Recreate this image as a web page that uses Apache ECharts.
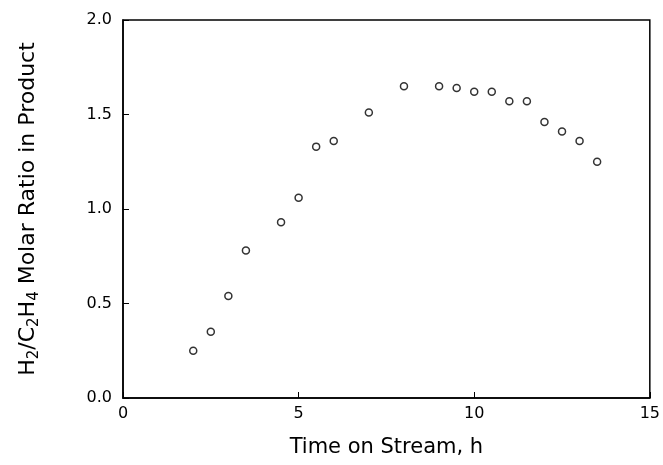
<!DOCTYPE html>
<html>
<head>
<meta charset="utf-8">
<script src="https://cdn.jsdelivr.net/npm/echarts@6/dist/echarts.min.js"></script>
<style>
  html, body { margin: 0; padding: 0; background: #fff; }
  #chart { width: 663px; height: 465px; }
</style>
</head>
<body>
<div id="chart"></div>
<script>
// time on stream (h) and H2/C2H4 ratio
const hours = [2, 2.5, 3, 3.5, 4.5, 5, 5.5, 6, 7, 8, 9, 9.5, 10, 10.5, 11, 11.5, 12, 12.5, 13, 13.5];
const ratio = [0.25, 0.35, 0.54, 0.78, 0.93, 1.06, 1.33, 1.36, 1.51, 1.65, 1.65, 1.64, 1.62, 1.62, 1.57, 1.57, 1.46, 1.41, 1.36, 1.25];
const xTicks = [0, 5, 10, 15];
const yTicks = [0, 0.5, 1, 1.5, 2];

const font = "DejaVu Sans";
const points = hours.map((h, i) => [h, ratio[i]]);

const chart = echarts.init(document.getElementById("chart"));
chart.setOption({
  animation: false,
  textStyle: { fontFamily: font, color: "#000" },
  grid: {
    left: 123, right: 11, top: 20, bottom: 67,
    show: true, borderColor: "#000", borderWidth: 1.5
  },
  xAxis: {
    type: "value", min: 0, max: 15, interval: 5,
    name: "Time on Stream, h",
    nameLocation: "middle", nameGap: 39,
    nameTextStyle: { fontFamily: font, fontSize: 21, color: "#000" },
    axisLine: { lineStyle: { color: "#000", width: 1.5 } },
    axisTick: { inside: true, length: 6, lineStyle: { color: "#000" } },
    axisLabel: {
      margin: 8, fontSize: 16, color: "#000", fontFamily: font,
      formatter: v => (xTicks.includes(v) ? String(v) : "")
    },
    splitLine: { show: false }
  },
  yAxis: {
    type: "value", min: 0, max: 2, interval: 0.5,
    name: "{n|H}{s|2}{n|/C}{s|2}{n|H}{s|4}{n| Molar Ratio in Product}",
    nameLocation: "middle", nameGap: 82,
    nameTextStyle: {
      fontFamily: font, fontSize: 22, color: "#000",
      rich: {
        n: { fontFamily: font, fontSize: 22, color: "#000", lineHeight: 26 },
        s: { fontFamily: font, fontSize: 15, color: "#000", lineHeight: 26, padding: [12, 0, 0, 0] }
      }
    },
    axisLine: { lineStyle: { color: "#000", width: 1.5 } },
    axisTick: { inside: true, length: 6, lineStyle: { color: "#000" } },
    axisLabel: {
      margin: 11, fontSize: 16, color: "#000", fontFamily: font,
      formatter: v => (yTicks.includes(v) ? v.toFixed(1) : "")
    },
    splitLine: { show: false }
  },
  series: [{
    type: "scatter",
    data: points,
    symbol: "circle",
    symbolSize: 7,
    itemStyle: { color: "#fff", borderColor: "#000", borderWidth: 1.5 }
  }]
});
</script>
</body>
</html>
